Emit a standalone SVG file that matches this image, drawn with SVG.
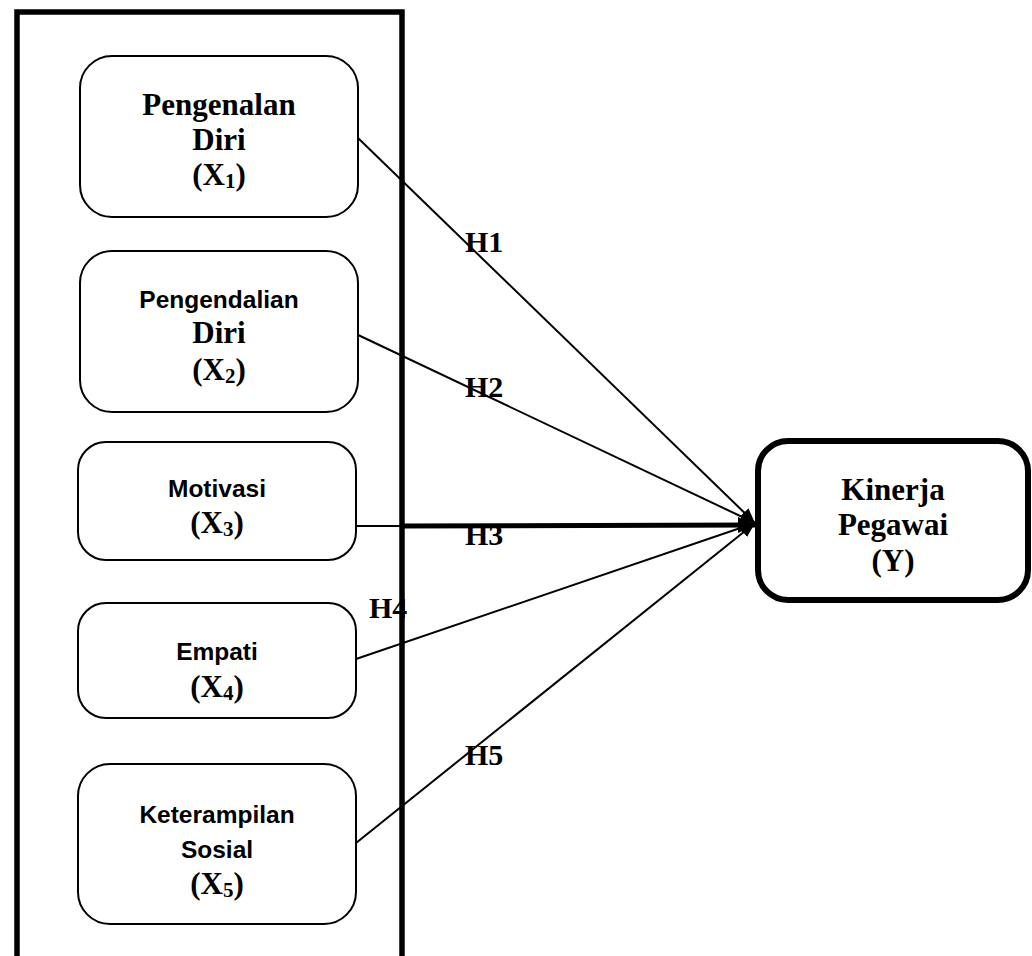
<svg xmlns="http://www.w3.org/2000/svg" width="1032" height="956" viewBox="0 0 1032 956">
<style>
.box{fill:#fff;stroke:#000;stroke-width:2}
.ybox{fill:#fff;stroke:#000;stroke-width:6}
.frame{fill:none;stroke:#000;stroke-width:5.5}
.serif{font-family:"Liberation Serif","Times New Roman",serif;font-weight:bold;font-size:31px;fill:#000;text-anchor:middle}
.sans{font-family:"Liberation Sans",Arial,sans-serif;font-weight:bold;font-size:24.5px;fill:#000;text-anchor:middle}
.sub{font-size:21px}
.lbl{font-family:"Liberation Serif","Times New Roman",serif;font-weight:bold;font-size:30px;fill:#000}
.con{stroke:#000;stroke-width:2;fill:none}
.thick{stroke:#000;stroke-width:5;fill:none}
</style>
<defs>
<marker id="ah" markerUnits="userSpaceOnUse" markerWidth="16" markerHeight="12" refX="15" refY="6" orient="auto">
<path d="M0,0 L15,6 L0,12 Z" fill="#000"/>
</marker>
<marker id="ahb" markerUnits="userSpaceOnUse" markerWidth="18" markerHeight="16" refX="17" refY="8" orient="auto">
<path d="M0,0 L17,8 L0,16 Z" fill="#000"/>
</marker>
</defs>
<rect width="1032" height="956" fill="#fff"/>
<rect id="frame" class="frame" x="17" y="12" width="385" height="950"/>

<g id="connectors">
<line class="con" x1="358" y1="138" x2="755" y2="523" marker-end="url(#ah)"/>
<line class="con" x1="356" y1="334" x2="755" y2="523" marker-end="url(#ah)"/>
<line class="con" x1="356" y1="526" x2="402" y2="526"/>
<line class="thick" x1="402" y1="526" x2="755" y2="525" marker-end="url(#ahb)"/>
<line class="con" x1="356" y1="659" x2="755" y2="523" marker-end="url(#ah)"/>
<line class="con" x1="356" y1="843" x2="755" y2="523" marker-end="url(#ah)"/>
<text class="lbl" x="465" y="252">H1</text>
<text class="lbl" x="465" y="397">H2</text>
<text class="lbl" x="465" y="545">H3</text>
<text class="lbl" x="369" y="618">H4</text>
<text class="lbl" x="465" y="765">H5</text>
</g>

<g id="x1">
<rect class="box" x="80" y="56" width="278" height="161" rx="32"/>
<text class="serif" x="219" y="115">Pengenalan</text>
<text class="serif" x="219" y="150">Diri</text>
<text class="serif" x="219" y="185">(X<tspan class="sub" dy="3">1</tspan><tspan dy="-3">)</tspan></text>
</g>

<g id="x2">
<rect class="box" x="80" y="251" width="278" height="161" rx="32"/>
<text class="sans" x="219" y="308">Pengendalian</text>
<text class="serif" x="219" y="343">Diri</text>
<text class="serif" x="219" y="380">(X<tspan class="sub" dy="3">2</tspan><tspan dy="-3">)</tspan></text>
</g>

<g id="x3">
<rect class="box" x="78" y="442" width="278" height="118" rx="28"/>
<text class="sans" x="217" y="497">Motivasi</text>
<text class="serif" x="217" y="533">(X<tspan class="sub" dy="3">3</tspan><tspan dy="-3">)</tspan></text>
</g>

<g id="x4">
<rect class="box" x="78" y="603" width="278" height="115" rx="28"/>
<text class="sans" x="217" y="660">Empati</text>
<text class="serif" x="217" y="697">(X<tspan class="sub" dy="3">4</tspan><tspan dy="-3">)</tspan></text>
</g>

<g id="x5">
<rect class="box" x="78" y="764" width="278" height="160" rx="32"/>
<text class="sans" x="217" y="823">Keterampilan</text>
<text class="sans" x="217" y="858">Sosial</text>
<text class="serif" x="217" y="894">(X<tspan class="sub" dy="3">5</tspan><tspan dy="-3">)</tspan></text>
</g>

<g id="y">
<rect class="ybox" x="758" y="441" width="270" height="159" rx="30"/>
<text class="serif" x="893" y="500">Kinerja</text>
<text class="serif" x="893" y="535">Pegawai</text>
<text class="serif" x="893" y="571">(Y)</text>
</g>
</svg>
